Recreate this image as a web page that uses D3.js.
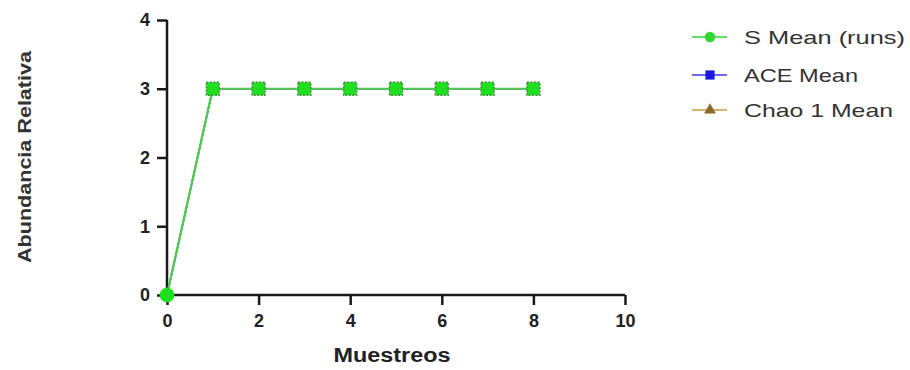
<!DOCTYPE html>
<html>
<head>
<meta charset="utf-8">
<script src="https://cdn.jsdelivr.net/npm/d3@7"></script>
<style>
  body { margin: 0; background: #fff; }
  text { font-family: Arial, "Liberation Sans", sans-serif; }
</style>
</head>
<body>
<div id="chart"></div>
<script>
// Data
var samples = [0, 1, 2, 3, 4, 5, 6, 7, 8];
var sMean = [0, 3, 3, 3, 3, 3, 3, 3, 3];
var aceMean = [0, 3, 3, 3, 3, 3, 3, 3, 3];
var chaoMean = [0, 3, 3, 3, 3, 3, 3, 3, 3];
var xTicks = [0, 2, 4, 6, 8, 10];
var yTicks = [0, 1, 2, 3, 4];
var seriesNames = ["S Mean (runs)", "ACE Mean", "Chao 1 Mean"];

function drawChart() {
    var W = 910, H = 370;
    var x0 = 167, x1 = 625, y0 = 295, y1 = 20;

    var svg = d3.select("#chart").append("svg")
        .attr("width", W).attr("height", H);

    var x = d3.scaleLinear().domain([0, 10]).range([x0, x1]);
    var y = d3.scaleLinear().domain([0, 4]).range([y0, y1]);

    // Axes
    var xAxis = svg.append("g")
        .attr("transform", "translate(0," + y0 + ")")
        .call(d3.axisBottom(x).tickValues(xTicks).tickSize(10).tickPadding(9).tickFormat(d3.format("d")));
    var yAxis = svg.append("g")
        .attr("transform", "translate(" + x0 + ",0)")
        .call(d3.axisLeft(y).tickValues(yTicks).tickSize(10).tickPadding(7).tickFormat(d3.format("d")));

    [xAxis, yAxis].forEach(function(a) {
        a.select(".domain").attr("stroke", "#1a1a1a").attr("stroke-width", 2.5)
            .attr("d", a === xAxis ? "M" + x0 + ",0H" + x1 : "M0," + y0 + "V" + y1);
        a.selectAll(".tick line").attr("stroke", "#1a1a1a").attr("stroke-width", 2.5);
        a.selectAll(".tick text").attr("fill", "#222").attr("font-size", "18px")
            .attr("font-weight", "bold");
    });

    // Axis titles
    svg.append("text")
        .attr("transform", "translate(31,157) rotate(-90)")
        .attr("text-anchor", "middle")
        .attr("font-size", "19px").attr("font-weight", "bold").attr("fill", "#333")
        .attr("textLength", 212).attr("lengthAdjust", "spacingAndGlyphs")
        .text("Abundancia Relativa");
    svg.append("text")
        .attr("x", 392).attr("y", 362)
        .attr("text-anchor", "middle")
        .attr("font-size", "20px").attr("font-weight", "bold").attr("fill", "#222")
        .attr("textLength", 117).attr("lengthAdjust", "spacingAndGlyphs")
        .text("Muestreos");

    var line = d3.line()
        .x(function(d, i) { return x(samples[i]); })
        .y(function(d) { return y(d); });

    // Hidden-under series (overlapping values)
    svg.append("path").datum(chaoMean).attr("d", line)
        .attr("fill", "none").attr("stroke", "#a07a3a").attr("stroke-width", 1.5);
    svg.append("path").datum(aceMean).attr("d", line)
        .attr("fill", "none").attr("stroke", "#2020e0").attr("stroke-width", 1.5);

    // S Mean on top
    svg.append("path").datum(sMean).attr("d", line)
        .attr("fill", "none").attr("stroke", "#45d945").attr("stroke-width", 2.2);
    svg.append("path").datum(sMean).attr("d", line)
        .attr("fill", "none").attr("stroke", "#7a9a7a").attr("stroke-width", 0.8)
        .attr("stroke-dasharray", "2,2");

    svg.selectAll("path.pt").data(sMean).enter().append("path")
        .attr("class", "pt")
        .attr("transform", function(d, i) { return "translate(" + x(samples[i]) + "," + y(d) + ")"; })
        .attr("d", function(d, i) {
            return d3.symbol().type(i === 0 ? d3.symbolCircle : d3.symbolSquare).size(i === 0 ? 170 : 165)();
        })
        .attr("fill", "#1ee01e")
        .attr("stroke", function(d, i) { return i === 0 ? "none" : "#3f8a3f"; })
        .attr("stroke-width", 1.5).attr("stroke-dasharray", "2,1.5");

    // Legend
    var legColors = ["#2fd92f", "#1a1ae0", "#8a6a2a"];
    var legLine = ["#66dd66", "#6a6af0", "#d9b070"];
    var legSym = [d3.symbolCircle, d3.symbolSquare, d3.symbolTriangle];
    var legY = [37, 75, 110];
    var legLen = [161, 114, 149];
    var leg = svg.selectAll("g.leg").data(seriesNames).enter().append("g")
        .attr("class", "leg")
        .attr("transform", function(d, i) { return "translate(0," + legY[i] + ")"; });
    leg.append("line")
        .attr("x1", 692).attr("x2", 727).attr("y1", 0).attr("y2", 0)
        .attr("stroke", function(d, i) { return legLine[i]; }).attr("stroke-width", 2);
    leg.append("path")
        .attr("transform", "translate(710,0)")
        .attr("d", function(d, i) { return d3.symbol().type(legSym[i]).size(i === 2 ? 60 : 85)(); })
        .attr("fill", function(d, i) { return legColors[i]; });
    leg.append("text")
        .attr("x", 744).attr("y", 7)
        .attr("font-size", "19px").attr("fill", "#333")
        .attr("textLength", function(d, i) { return legLen[i]; })
        .attr("lengthAdjust", "spacingAndGlyphs")
        .text(function(d) { return d; });
}

window.onload = drawChart;
</script>
</body>
</html>
